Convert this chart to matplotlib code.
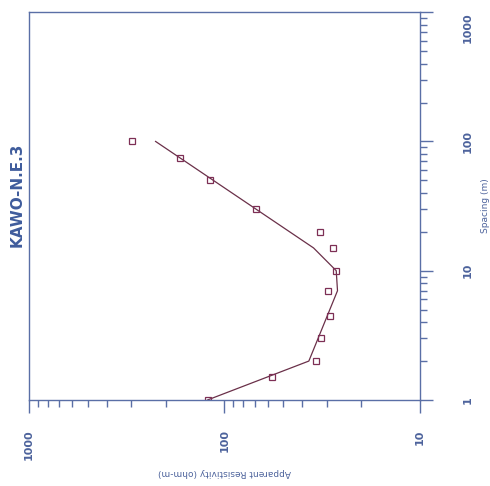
import numpy as np
import matplotlib.pyplot as plt
from matplotlib.ticker import LogLocator, NullFormatter

# Field data
spacing = [1, 1.5, 2, 3, 4.5, 7, 10, 15, 20, 30, 50, 75, 100]
resistivity = [122, 57, 34, 32, 29, 29.5, 26.8, 28, 32.5, 69, 119, 169, 298]

# Model curve vertices
model_spacing = [1, 2, 7, 10, 15, 100]
model_resistivity = [122, 37, 26.4, 26.8, 35, 225]

axis_col = '#5a6fa6'
text_col = '#4d639c'
mark_col = '#7d2f55'
line_col = '#6a3049'

fig = plt.figure(figsize=(4.9, 4.86), dpi=100)
ax = fig.add_axes([0.059, 0.177, 0.798, 0.798])

# the sheet is turned on its side: resistivity runs along the bottom, spacing up the right
ax.plot(model_resistivity, model_spacing, color=line_col, lw=0.9)
ax.plot(resistivity, spacing, ls='none', marker='s', ms=4.5, mfc='none',
        mec=mark_col, mew=0.9)

ax.set_xscale('log')
ax.set_yscale('log')
ax.set_xlim(1000, 10)
ax.set_ylim(1, 1000)

for sp in ax.spines.values():
    sp.set_color(axis_col)
    sp.set_linewidth(1.0)

ax.yaxis.tick_right()
ax.xaxis.tick_bottom()
ax.tick_params(axis='both', which='major', direction='out', length=9,
               width=1.0, color=axis_col, labelcolor=text_col, labelsize=8)
ax.tick_params(axis='both', which='minor', direction='out', length=5,
               width=1.0, color=axis_col)
ax.xaxis.set_minor_locator(LogLocator(base=10, subs=np.arange(2, 10)))
ax.yaxis.set_minor_locator(LogLocator(base=10, subs=np.arange(2, 10)))
ax.xaxis.set_minor_formatter(NullFormatter())
ax.yaxis.set_minor_formatter(NullFormatter())

ax.set_xticks([1000, 100, 10])
ax.set_xticklabels(['1000', '100', '10'], rotation=90, fontweight='bold',
                   va='top')
ax.set_yticks([1, 10, 100, 1000])
ax.set_yticklabels(['1', '10', '100', '1000'], rotation=90, fontweight='bold',
                   va='center', ha='left')
ax.get_yticklabels()[-1].set_va('top')
ax.tick_params(axis='x', pad=12)
ax.tick_params(axis='y', pad=22)

ax.set_xlabel('Apparent Resistivity (ohm-m)', rotation=180, fontsize=6.5,
              color=text_col, labelpad=6)
ax.yaxis.set_label_position('right')
ax.set_ylabel('Spacing (m)', rotation=90, fontsize=6.5, color=text_col,
              labelpad=6)

fig.text(0.035, 0.60, 'KAWO-N.E.3', rotation=90, fontsize=11,
         fontweight='bold', color='#3f5c9c', ha='center', va='center')

fig.savefig('out.png', dpi=100)
